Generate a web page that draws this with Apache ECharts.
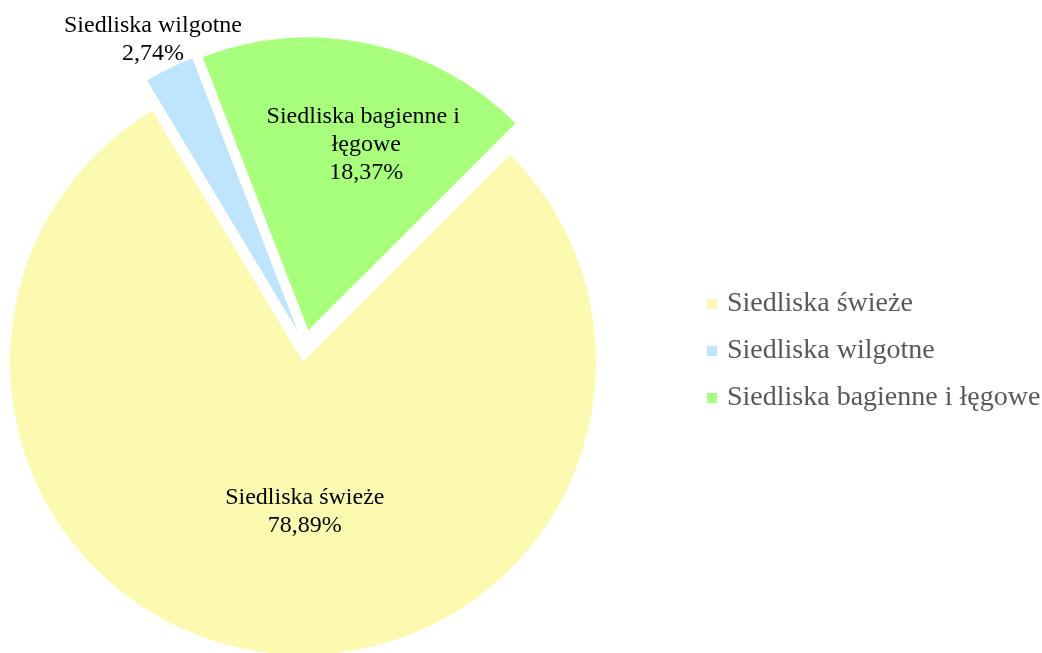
<!DOCTYPE html>
<html>
<head>
<meta charset="utf-8">
<script src="https://cdn.jsdelivr.net/npm/echarts@6/dist/echarts.min.js"></script>
<style>
  html, body { margin: 0; padding: 0; background: #fff; }
  #chart { width: 1042px; height: 653px; }
</style>
</head>
<body>
<div id="chart"></div>
<script>
const names = ['Siedliska świeże', 'Siedliska wilgotne', 'Siedliska bagienne i łęgowe'];
const shares = [78.89, 2.74, 18.37];
const colors = ['#FCFAB0', '#BEE5FB', '#A7FF7B'];
const labelPos = ['inside', 'outside', 'inside'];

const myChart = echarts.init(document.getElementById('chart'));
const data = names.map((n, i) => ({
    name: n,
    value: shares[i],
    selected: true,
    itemStyle: {color: colors[i]},
    label: {
        position: labelPos[i],
        width: i == 2 ? 240 : undefined,
        overflow: i == 2 ? 'break' : 'none'
    }
}));
const option = {
    animation: false,
    textStyle: {fontFamily: 'Liberation Serif'},
    legend: {
        orient: 'vertical',
        left: 702,
        top: 285,
        itemWidth: 10,
        itemHeight: 10,
        itemGap: 19,
        icon: 'rect',
        data: names,
        textStyle: {fontSize: 28, color: '#595959', fontFamily: 'Liberation Serif', padding: [0, 0, 0, 5]}
    },
    series: [{
        type: 'pie',
        center: [305, 346],
        radius: 293,
        startAngle: 45,
        clockwise: true,
        selectedMode: 'multiple',
        selectedOffset: 16,
        emphasis: {disabled: true},
        label: {
            show: true,
            fontSize: 24,
            lineHeight: 28,
            color: '#000',
            fontFamily: 'Liberation Serif',
            align: 'center',
            formatter: (p) => p.name + '\n' + p.value.toFixed(2).replace('.', ',') + '%'
        },
        labelLine: {show: false, length: 12, length2: 0},
        labelLayout: (p) => {
            // nudge labels to where the original chart puts them
            if (p.dataIndex == 0) return {dx: 20, dy: 1};
            if (p.dataIndex == 1) return {align: 'center', dx: -6, dy: -18};
            if (p.dataIndex == 2) return {dx: 27, dy: -39};
            return {};
        },
        data: data
    }]
};
myChart.setOption(option);
</script>
</body>
</html>
